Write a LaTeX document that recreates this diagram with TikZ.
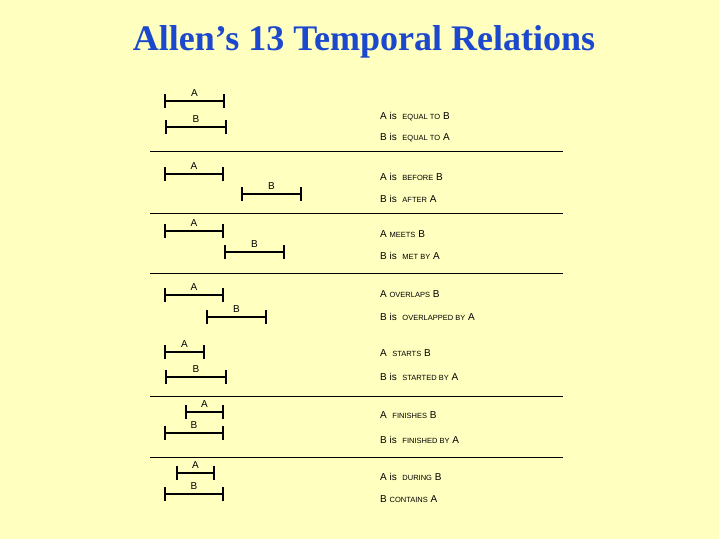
\documentclass[tikz,border=0pt]{standalone}
\usepackage{fontspec}
\setmainfont{Liberation Serif}
\newfontfamily\lsans{Liberation Sans}
\definecolor{ttl}{RGB}{28,72,205}
\begin{document}
\begin{tikzpicture}[x=1pt,y=-1pt,
  lbl/.style={font=\lsans\fontsize{10}{10}\selectfont,inner sep=0pt},
  rel/.style={font=\lsans\fontsize{10}{10}\selectfont,anchor=west,inner sep=0pt},
  sep/.style={line width=0.8pt}]
\fill[fill={rgb,255:red,255;green,255;blue,192}] (0,0) rectangle (719,539);
\useasboundingbox (0,0) rectangle (719,539);
\node[font=\bfseries\fontsize{36}{36}\selectfont,text=ttl] (title) at (364,42) {Allen’s 13 Temporal Relations};
\newcommand\ivl[5]{%
  \coordinate (#1l) at (#2,#4); \coordinate (#1r) at (#3,#4);
  \draw[line width=2.4pt] (#1l) -- (#1r);
  \draw[line width=2.6pt] ([yshift=-7]#1l) -- ([yshift=7]#1l);
  \draw[line width=2.6pt] ([yshift=-7]#1r) -- ([yshift=7]#1r);
  \node[lbl] (#1t) at ({(#2+#3)/2},#4-8) {#5};}
\newcommand\sm[1]{{\fontsize{7.5}{8}\selectfont #1}}
% equal
\ivl{ea}{165}{224}{101}{A}\ivl{eb}{166}{226}{127}{B}
\node[rel] (e1) at (380,117) {A is \ \sm{EQUAL TO} B};
\node[rel] (e2) at (380,138) {B is \ \sm{EQUAL TO} A};
\draw[sep] (150,151) -- (563,151);
% before
\ivl{ba}{165}{223}{174}{A}\ivl{bb}{242}{301}{194}{B}
\node[rel] (b1) at (380,177) {A is \ \sm{BEFORE} B};
\node[rel] (b2) at (380,199) {B is \ \sm{AFTER} A};
\draw[sep] (150,213) -- (563,213);
% meets
\ivl{ma}{165}{223}{231}{A}\ivl{mb}{225}{284}{252}{B}
\node[rel] (m1) at (380,234) {A \sm{MEETS} B};
\node[rel] (m2) at (380,256) {B is \ \sm{MET BY} A};
\draw[sep] (150,273) -- (563,273);
% overlaps
\ivl{oa}{165}{223}{295}{A}\ivl{ob}{207}{266}{317}{B}
\node[rel] (o1) at (380,294) {A \sm{OVERLAPS} B};
\node[rel] (o2) at (380,317) {B is \ \sm{OVERLAPPED BY} A};
% starts
\ivl{sa}{165}{204}{352}{A}\ivl{sb}{166}{226}{377}{B}
\node[rel] (s1) at (380,353) {A \ \sm{STARTS} B};
\node[rel] (s2) at (380,377) {B is \ \sm{STARTED BY} A};
\draw[sep] (150,396) -- (563,396);
% finishes
\ivl{fa}{186}{223}{412}{A}\ivl{fb}{165}{223}{433}{B}
\node[rel] (f1) at (380,415) {A \ \sm{FINISHES} B};
\node[rel] (f2) at (380,440) {B is \ \sm{FINISHED BY} A};
\draw[sep] (150,457) -- (563,457);
% during
\ivl{da}{177}{214}{473}{A}\ivl{db}{165}{223}{494}{B}
\node[rel] (d1) at (380,477) {A is \ \sm{DURING} B};
\node[rel] (d2) at (380,499) {B \sm{CONTAINS} A};
\end{tikzpicture}
\end{document}
